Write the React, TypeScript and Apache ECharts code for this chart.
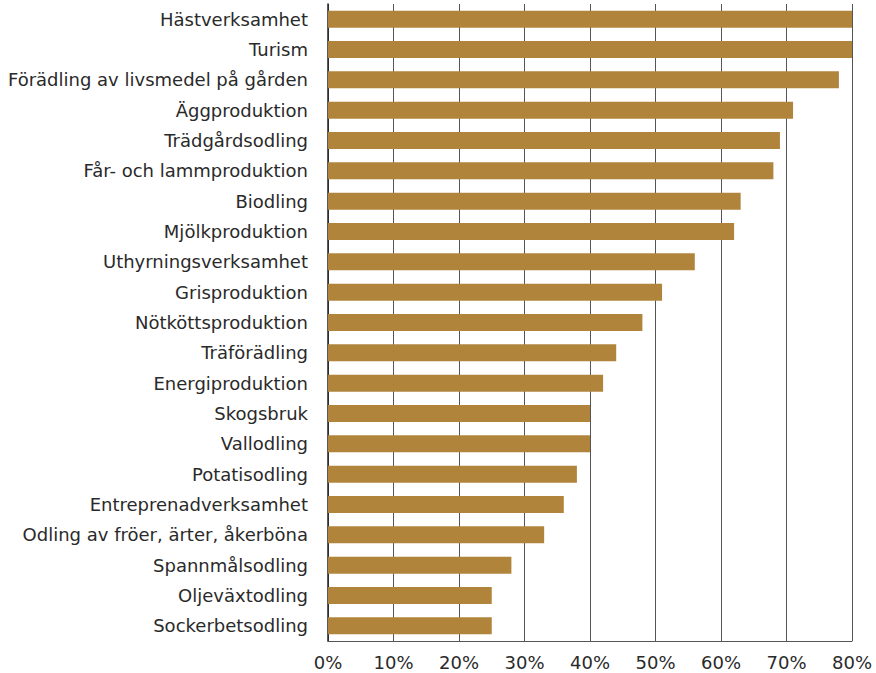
import React, { useEffect, useRef } from "react";
import * as echarts from "echarts";

const categories = [
  "Hästverksamhet",
  "Turism",
  "Förädling av livsmedel på gården",
  "Äggproduktion",
  "Trädgårdsodling",
  "Får- och lammproduktion",
  "Biodling",
  "Mjölkproduktion",
  "Uthyrningsverksamhet",
  "Grisproduktion",
  "Nötköttsproduktion",
  "Träförädling",
  "Energiproduktion",
  "Skogsbruk",
  "Vallodling",
  "Potatisodling",
  "Entreprenadverksamhet",
  "Odling av fröer, ärter, åkerböna",
  "Spannmålsodling",
  "Oljeväxtodling",
  "Sockerbetsodling",
];

const values = [80, 80, 78, 71, 69, 68, 63, 62, 56, 51, 48, 44, 42, 40, 40, 38, 36, 33, 28, 25, 25];

export default function App() {
  const ref = useRef<HTMLDivElement>(null);
  useEffect(() => {
    if (!ref.current) return;
    const chart = echarts.init(ref.current, null, { renderer: "svg" });
    const font = "'DejaVu Sans', sans-serif";
    chart.setOption({
      animation: false,
      grid: { left: 328, right: 24, top: 4, bottom: 32, containLabel: false },
      xAxis: {
        type: "value",
        min: 0,
        max: 80,
        interval: 10,
        axisLine: { show: true, lineStyle: { color: "#555", width: 1 } },
        axisTick: { show: false },
        axisLabel: {
          formatter: "{value}%",
          color: "#2a2a2a",
          fontSize: 18,
          fontFamily: font,
          margin: 12,
        },
        splitLine: { show: true, lineStyle: { color: "#555", width: 1 } },
      },
      yAxis: {
        type: "category",
        data: categories,
        inverse: true,
        axisLine: { show: true, lineStyle: { color: "#222", width: 1.5 } },
        axisTick: { show: false },
        axisLabel: {
          color: "#2a2a2a",
          fontSize: 18,
          fontFamily: font,
          margin: 20,
          padding: [4, 0, 0, 0],
        },
      },
      series: [
        {
          type: "bar",
          data: values,
          barWidth: 17,
          itemStyle: { color: "#B1843B" },
        },
      ],
    });
    return () => chart.dispose();
  }, []);
  return (
    <div
      ref={ref}
      style={{ position: "absolute", left: 0, top: 0, width: 876, height: 673 }}
    />
  );
}
